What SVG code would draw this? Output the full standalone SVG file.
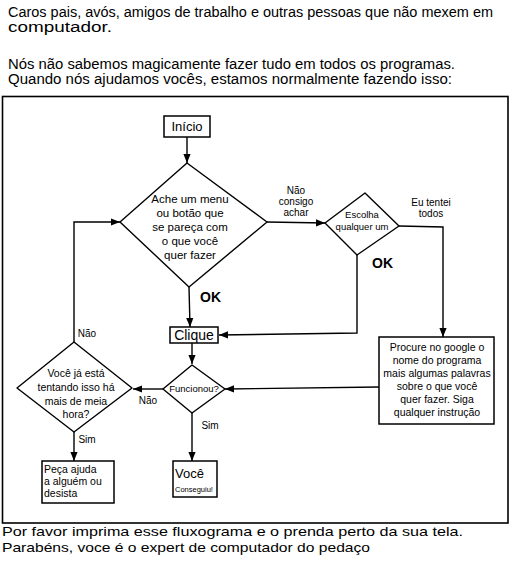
<svg xmlns="http://www.w3.org/2000/svg" width="510" height="573" viewBox="0 0 510 573">
<defs>
<marker id="ah" viewBox="0 0 10 10" refX="10" refY="5" markerWidth="9" markerHeight="9" markerUnits="userSpaceOnUse" orient="auto">
<path d="M0,1 L10,5 L0,9 Z" fill="#000"/>
</marker>
<style>
text{font-family:"Liberation Sans","DejaVu Sans",sans-serif;fill:#000}
.hd{font-size:14px}
.sh{fill:none;stroke:#000;stroke-width:1.4;stroke-linejoin:round}
.bx{fill:#fff;stroke:#000;stroke-width:1.5}
.ln{fill:none;stroke:#000;stroke-width:1.4;marker-end:url(#ah)}
.c{text-anchor:middle}
.ok{font-size:14px;font-weight:bold}
.lb{font-size:10px}
</style>
</defs>
<rect width="510" height="573" fill="#fff"/>
<g id="header">
<text class="hd" x="8" y="17" textLength="485" lengthAdjust="spacingAndGlyphs">Caros pais, avós, amigos de trabalho e outras pessoas que não mexem em</text>
<text class="hd" x="8" y="32" textLength="104" lengthAdjust="spacingAndGlyphs">computador.</text>
<text class="hd" x="8" y="69" textLength="447" lengthAdjust="spacingAndGlyphs">Nós não sabemos magicamente fazer tudo em todos os programas.</text>
<text class="hd" x="8" y="84" textLength="444" lengthAdjust="spacingAndGlyphs">Quando nós ajudamos vocês, estamos normalmente fazendo isso:</text>
</g>
<rect id="frame" x="2.5" y="96.5" width="505.5" height="426.5" fill="none" stroke="#000" stroke-width="1.6"/>
<g id="connectors">
<path class="ln" d="M187,137 L187,163"/>
<path class="ln" d="M189,287 L190,327"/>
<path class="ln" d="M192,343 L192,364"/>
<path class="ln" d="M192,413 L192,461"/>
<path class="ln" d="M163,389 L133,389"/>
<path class="ln" d="M74,432 L74,461"/>
<path class="ln" d="M74,342 L74,222 L120,222"/>
<path class="ln" d="M267,222 L325,223"/>
<path class="ln" d="M357,255 L357,333 L219,335"/>
<path class="ln" d="M399,226 L443,227 L443,337"/>
<path class="ln" d="M379,387 L225,389"/>
<text class="lb c" x="296" y="194">Não</text>
<text class="lb c" x="296" y="205">consigo</text>
<text class="lb c" x="296" y="216">achar</text>
<text class="lb c" x="431" y="206">Eu tentei</text>
<text class="lb c" x="431" y="217">todos</text>
<text class="ok" x="200" y="302">OK</text>
<text class="ok" x="372" y="268">OK</text>
<text class="lb c" x="148" y="404">Não</text>
<text class="lb c" x="210" y="429">Sim</text>
<text class="lb c" x="87" y="337">Não</text>
<text class="lb c" x="87" y="443">Sim</text>
</g>
<g id="inicio">
<rect class="bx" x="164" y="116" width="46" height="21"/>
<text class="c" x="187" y="131" font-size="13">Início</text>
</g>
<g id="ache">
<path class="sh" d="M187,163 L267,222 L189,287 L120,222 Z" fill="#fff"/>
<text class="c" x="190" y="203" font-size="11.5">Ache um menu</text>
<text class="c" x="190" y="217" font-size="11.5">ou botão que</text>
<text class="c" x="190" y="231" font-size="11.5">se pareça com</text>
<text class="c" x="190" y="245" font-size="11.5">o que você</text>
<text class="c" x="190" y="259" font-size="11.5">quer fazer</text>
</g>
<g id="escolha">
<path class="sh" d="M365,193 L399,226 L357,255 L325,223 Z" fill="#fff"/>
<text class="c" x="362" y="218" font-size="9.5">Escolha</text>
<text class="c" x="362" y="230" font-size="9.5">qualquer um</text>
</g>
<g id="clique">
<rect class="bx" x="170" y="327" width="48" height="16"/>
<text class="c" x="194" y="340" font-size="14">Clique</text>
</g>
<g id="funcionou">
<path class="sh" d="M192,365 L225,389 L192,413 L163,389 Z" fill="#fff"/>
<text class="c" x="194" y="392" font-size="9.5">Funcionou?</text>
</g>
<g id="vocejaesta">
<path class="sh" d="M74,342 L132,388 L74,432 L17,388 Z" fill="#fff"/>
<text class="c" x="76" y="377" font-size="10.5">Você já está</text>
<text class="c" x="76" y="391" font-size="10.5">tentando isso há</text>
<text class="c" x="76" y="405" font-size="10.5">mais de meia</text>
<text class="c" x="76" y="418" font-size="10.5">hora?</text>
</g>
<g id="procure">
<rect class="bx" x="379" y="337" width="115" height="87"/>
<text class="c" x="437" y="351" font-size="10.5">Procure no google o</text>
<text class="c" x="437" y="364" font-size="10.5">nome do programa</text>
<text class="c" x="437" y="377" font-size="10.5">mais algumas palavras</text>
<text class="c" x="437" y="390" font-size="10.5">sobre o que você</text>
<text class="c" x="437" y="403" font-size="10.5">quer fazer. Siga</text>
<text class="c" x="437" y="416" font-size="10.5">qualquer instrução</text>
</g>
<g id="peca">
<rect class="bx" x="42" y="461" width="72" height="42"/>
<text x="44" y="473" font-size="10.5">Peça ajuda</text>
<text x="44" y="485" font-size="10.5">a alguém ou</text>
<text x="44" y="497" font-size="10.5">desista</text>
</g>
<g id="voce">
<rect class="bx" x="173" y="461" width="44" height="36"/>
<text x="175" y="478" font-size="13">Você</text>
<text x="175" y="492" font-size="7.5">Conseguiu!</text>
</g>
<g id="footer">
<text x="2" y="536" font-size="13" textLength="461" lengthAdjust="spacingAndGlyphs">Por favor imprima esse fluxograma e o prenda perto da sua tela.</text>
<text x="2" y="552" font-size="13" textLength="368" lengthAdjust="spacingAndGlyphs">Parabéns, voce é o expert de computador do pedaço</text>
</g>
</svg>
